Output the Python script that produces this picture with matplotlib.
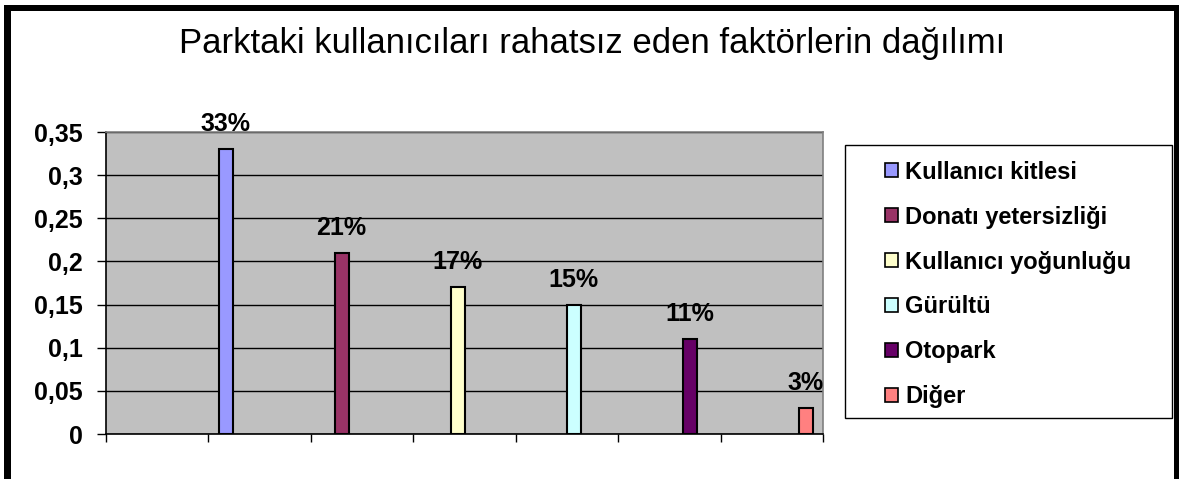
import matplotlib
matplotlib.use("Agg")
import matplotlib.pyplot as plt
from matplotlib.patches import Rectangle, Patch

# ---- data ----
categories = ["Kullanıcı kitlesi", "Donatı yetersizliği", "Kullanıcı yoğunluğu",
              "Gürültü", "Otopark", "Diğer"]
values = [0.33, 0.21, 0.17, 0.15, 0.11, 0.03]
value_labels = ["33%", "21%", "17%", "15%", "11%", "3%"]
colors = ["#9999FF", "#993366", "#FFFFCC", "#CCFFFF", "#660066", "#FF8080"]
yticks = [0, 0.05, 0.10, 0.15, 0.20, 0.25, 0.30, 0.35]
ytick_labels = ["0", "0,05", "0,1", "0,15", "0,2", "0,25", "0,3", "0,35"]
title = "Parktaki kullanıcıları rahatsız eden faktörlerin dağılımı"

plt.rcParams['font.family'] = ['Liberation Sans', 'DejaVu Sans']

W, H = 1179, 479
fig = plt.figure(figsize=(W / 100, H / 100), dpi=100)
fig.patch.set_facecolor("white")

def fx(px):
    return px / W

def fy(py):
    return 1 - py / H

# axes placement (pixels: left 106, right 823, top 132, bottom 434)
ax = fig.add_axes([fx(106), fy(434), fx(823) - fx(106), fy(132) - fy(434)])
ax.set_facecolor("#C0C0C0")

n = len(values)
start, step, width = 1.167, 1.133, 0.137
xpos = [start + i * step for i in range(n)]

ax.bar(xpos, values, width=width, color=colors, edgecolor="black",
       linewidth=1.5, zorder=3)

for x, v, lab in zip(xpos, values, value_labels):
    ax.annotate(lab, xy=(x, v), xytext=(0, 13), textcoords="offset points",
                ha="center", va="baseline", fontsize=18, fontweight="bold",
                color="black", zorder=4)

ax.set_xlim(0, 7)
ax.set_ylim(0, 0.35)
ax.set_xticks(range(0, 8))
ax.set_xticklabels([""] * 8)
ax.set_yticks(yticks)
ax.set_yticklabels(ytick_labels, fontsize=18, fontweight="bold")
ax.yaxis.grid(True, color="black", linewidth=1.0, zorder=1)
ax.set_axisbelow(True)
ax.tick_params(axis="y", direction="out", length=6.5, width=1, pad=10,
               color="black")
ax.tick_params(axis="x", direction="out", length=5.5, width=1, color="black")
for s in ["left", "bottom"]:
    ax.spines[s].set_color("black")
    ax.spines[s].set_linewidth(1.2)
for s in ["top", "right"]:
    ax.spines[s].set_color("#808080")
    ax.spines[s].set_linewidth(1.2)

# title
fig.text(fx(592), fy(43), title, ha="center", va="center", fontsize=25,
         color="black")

# legend box
lx0, lx1, ly0, ly1 = 845, 1172, 145, 418
fig.add_artist(Rectangle((fx(lx0), fy(ly1)), fx(lx1) - fx(lx0), fy(ly0) - fy(ly1),
                         transform=fig.transFigure, facecolor="white",
                         edgecolor="black", linewidth=1.0, zorder=2))
handles = [Patch(facecolor=c, edgecolor="black", linewidth=1.2) for c in colors]
fig.legend(handles, categories, loc="center",
           bbox_to_anchor=((fx(lx0) + fx(lx1)) / 2, fy((ly0 + ly1) / 2 + 3)),
           bbox_transform=fig.transFigure, frameon=False,
           prop={"size": 17, "weight": "bold"}, handlelength=0.55,
           handleheight=0.55, handletextpad=0.3, labelspacing=0.93)

# outer chart border
for (x0, y0, x1, y1) in [(4, 5, 1179, 11), (4, 5, 11, 479), (1174, 5, 1179, 479)]:
    fig.add_artist(Rectangle((fx(x0), fy(y1)), fx(x1) - fx(x0), fy(y0) - fy(y1),
                             transform=fig.transFigure, facecolor="black",
                             edgecolor="none", zorder=5))

fig.savefig("out.png", dpi=100)
